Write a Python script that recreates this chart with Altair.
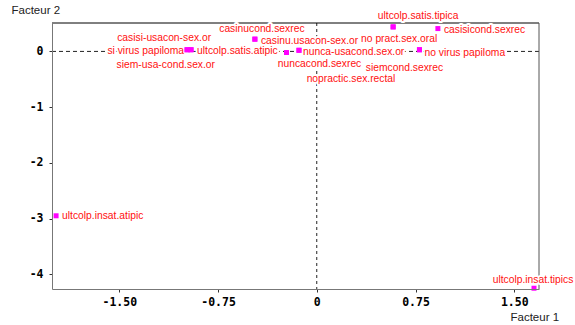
import altair as alt
import pandas as pd

# ---- data ----
labels = [
    "ultcolp.insat.atipic", "ultcolp.insat.tipics",
    "si virus papiloma", "casisi-usacon-sex.or", "ultcolp.satis.atipic", "siem-usa-cond.sex.or",
    "casinucond.sexrec", "casinu.usacon-sex.or",
    "nuncacond.sexrec", "nunca-usacond.sex.or", "nopractic.sex.rectal",
    "ultcolp.satis.tipica", "no pract.sex.oral",
    "casisicond.sexrec", "no virus papiloma", "siemcond.sexrec",
]
f1 = [-1.98, 1.65, -0.985, -0.985, -0.955, -0.955, -0.47, -0.47,
      -0.23, -0.135, -0.135, 0.58, 0.58, 0.92, 0.78, 0.78]
f2 = [-2.95, -4.25, 0.03, 0.03, 0.03, 0.03, 0.22, 0.22,
      -0.02, 0.02, 0.02, 0.44, 0.44, 0.41, 0.03, 0.03]

x_ticks = [-1.5, -0.75, 0, 0.75, 1.5]
y_ticks = [0, -1, -2, -3, -4]
x_title = "Facteur 1"
y_title = "Facteur 2"

# ---- label placement (layout, not data) ----
lab_align = ["left", "center", "right", "right", "left", "right", "center", "left",
             "center", "left", "center", "center", "center", "left", "left", "center"]
lab_dx = [6, -1, -3, 24, 6, 24, 7, 6, 33, 4, 52, 25, 6, 6, 5, -15]
lab_dy = [0, -8, 1, -12, 1, 15, -10.5, 2, 11, 1.5, 28.5, -10.6, 11.7, 1, 3, 18]

df = pd.DataFrame({"label": labels, "f1": f1, "f2": f2})

W, H = 487, 266
X = alt.X("f1:Q",
          scale=alt.Scale(domain=[-2.011, 1.688], nice=False, zero=False),
          axis=alt.Axis(values=x_ticks, grid=False, title=x_title, zindex=1,
                        labelExpr="datum.value == 0 ? '0' : replace(format(datum.value, '.2f'), '\u2212', '-')",
                        domainColor="#777", tickColor="#333", tickSize=3, labelPadding=4,
                        labelFont="DejaVu Sans Mono", labelFontWeight="bold", labelFontSize=11.5,
                        labelColor="black",
                        titleX=458, titleY=28, titleAlign="left", titleBaseline="middle",
                        titleFont="Liberation Sans", titleFontSize=11.5, titleFontWeight="normal",
                        titleColor="#222"))
Y = alt.Y("f2:Q",
          scale=alt.Scale(domain=[-4.264, 0.51], nice=False, zero=False),
          axis=alt.Axis(values=y_ticks, grid=False, title=y_title, zindex=1,
                        labelExpr="replace(format(datum.value, 'd'), '\u2212', '-')",
                        domainColor="#777", tickColor="#333", tickSize=3, labelPadding=6,
                        labelFont="DejaVu Sans Mono", labelFontWeight="bold", labelFontSize=11.5,
                        labelColor="black",
                        titleAngle=0, titleX=-41, titleY=-13, titleAlign="left",
                        titleBaseline="middle",
                        titleFont="Liberation Sans", titleFontSize=11.5, titleFontWeight="normal",
                        titleColor="#222"))

base = alt.Chart(df)
zero = pd.DataFrame({"f1": [0], "f2": [0]})

hline = alt.Chart(zero).mark_rule(color="#222", strokeDash=[4, 3], strokeWidth=1).encode(y=Y)
vline = alt.Chart(zero).mark_rule(color="#222", strokeDash=[3, 3], strokeWidth=1).encode(x=X)
top = alt.Chart(zero).mark_rule(color="black", strokeWidth=1).encode(
    x=alt.value(0), x2=alt.value(W), y=alt.value(0))
right = alt.Chart(zero).mark_rule(color="#555", strokeWidth=1).encode(
    x=alt.value(W), y=alt.value(0), y2=alt.value(H))

halos = []
texts = []
for lab, al, dx, dy in zip(labels, lab_align, lab_dx, lab_dy):
    sub = base.transform_filter(alt.datum.label == lab)
    halos.append(sub.mark_text(align=al, baseline="middle", dx=dx, dy=dy,
                               font="Liberation Sans", fontSize=10.3,
                               color="white", stroke="white", strokeWidth=4,
                               strokeJoin="round").encode(x=X, y=Y, text="label:N"))
    texts.append(sub.mark_text(align=al, baseline="middle", dx=dx, dy=dy,
                               font="Liberation Sans", fontSize=10.3,
                               color="#ff1010").encode(x=X, y=Y, text="label:N"))

points = base.mark_square(size=25, color="#ff00ff", opacity=1).encode(x=X, y=Y)

chart = alt.layer(hline, vline, top, right, *halos, points, *texts).properties(
    width=W, height=H,
    autosize=alt.AutoSizeParams(type="none"),
    padding={"left": 52, "top": 23, "right": 36, "bottom": 36},
    background="white",
).configure_view(stroke=None)

chart.save("out.html", embed_options={"renderer": "svg", "actions": False})
